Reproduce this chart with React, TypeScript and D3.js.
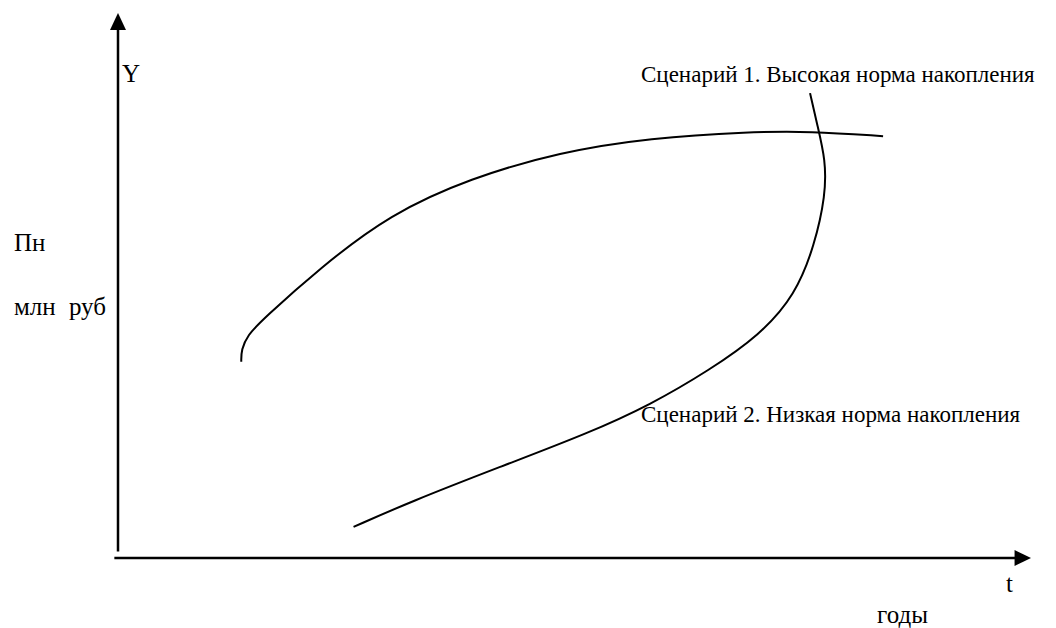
import React, {useRef, useEffect} from 'react'
import * as d3 from 'd3'

// schematic values, axes run 0..100 in both directions
const highT = [13.5, 13.5, 14.2, 15.8, 22.1, 29.8, 38.6, 48.4, 58.3, 69.2, 75.8, 83.8]
const highY = [36.0, 38.2, 40.9, 43.7, 53.2, 63.1, 69.7, 74.5, 77.1, 78.2, 78.3, 77.4]

const lowT = [25.8, 32.0, 41.8, 51.5, 58.3, 64.8, 70.3, 74.2, 76.3, 77.5, 77.5, 76.6, 75.8]
const lowY = [5.7, 10.3, 16.7, 22.9, 28.1, 34.5, 40.9, 48.3, 57.4, 66.6, 73.0, 79.4, 85.3]

const scenarioLabels = ['Сценарий 1. Высокая норма накопления', 'Сценарий 2. Низкая норма накопления']
const yLabels = ['Y', 'Пн', 'млн руб']
const xLabels = ['t', 'годы']

export default function App() {
  const ref = useRef<SVGSVGElement>(null)
  const layout = {width: 1056, height: 628}

  useEffect(() => {
    const svg = d3.select(ref.current)
    svg.selectAll('*').remove()

    const x = d3.scaleLinear().domain([0, 100]).range([118, 1031])
    const y = d3.scaleLinear().domain([0, 100]).range([558, 13])

    const font = "'Liberation Serif', 'Times New Roman', serif"

    // axes
    svg.append('line')
      .attr('x1', x(0)).attr('x2', x(0))
      .attr('y1', y(1.2)).attr('y2', y(97))
      .attr('stroke', '#000').attr('stroke-width', 2.5)
    svg.append('line')
      .attr('x1', x(-0.4)).attr('x2', x(98.5))
      .attr('y1', y(0)).attr('y2', y(0))
      .attr('stroke', '#000').attr('stroke-width', 2.5)

    // arrow heads
    svg.append('path')
      .attr('d', `M${x(0)},${y(100)} L${x(0) - 8},${y(96.9)} L${x(0) + 8},${y(96.9)} Z`)
      .attr('fill', '#000')
    svg.append('path')
      .attr('d', `M${x(100)},${y(0)} L${x(98.2)},${y(0) - 8} L${x(98.2)},${y(0) + 8} Z`)
      .attr('fill', '#000')

    const line = d3.line<[number, number]>()
      .x(d => x(d[0]))
      .y(d => y(d[1]))
      .curve(d3.curveBasis)

    const series = [
      highT.map((t, i) => [t, highY[i]] as [number, number]),
      lowT.map((t, i) => [t, lowY[i]] as [number, number]),
    ]

    svg.selectAll('.curve')
      .data(series)
      .join('path')
      .attr('class', 'curve')
      .attr('d', d => line(d))
      .attr('fill', 'none')
      .attr('stroke', '#000')
      .attr('stroke-width', 2)

    const texts = [
      {label: scenarioLabels[0], px: 641, py: 82, size: 23},
      {label: scenarioLabels[1], px: 641, py: 422, size: 23},
      {label: yLabels[0], px: 122, py: 82, size: 25},
      {label: yLabels[1], px: 14, py: 251, size: 25},
      {label: yLabels[2], px: 14, py: 315, size: 25},
      {label: xLabels[0], px: 1006, py: 592, size: 25},
      {label: xLabels[1], px: 877, py: 623, size: 25},
    ]

    svg.selectAll('.lbl')
      .data(texts)
      .join('text')
      .attr('class', 'lbl')
      .attr('x', d => d.px)
      .attr('y', d => d.py)
      .attr('font-family', font)
      .attr('font-size', d => d.size)
      .attr('word-spacing', d => d.size === 25 ? 7 : 0)
      .attr('fill', '#000')
      .text(d => d.label)
  }, [])

  return (
    <svg ref={ref} width={layout.width} height={layout.height}
      style={{position: 'absolute', left: 0, top: 0, background: '#fff'}} />
  )
}
